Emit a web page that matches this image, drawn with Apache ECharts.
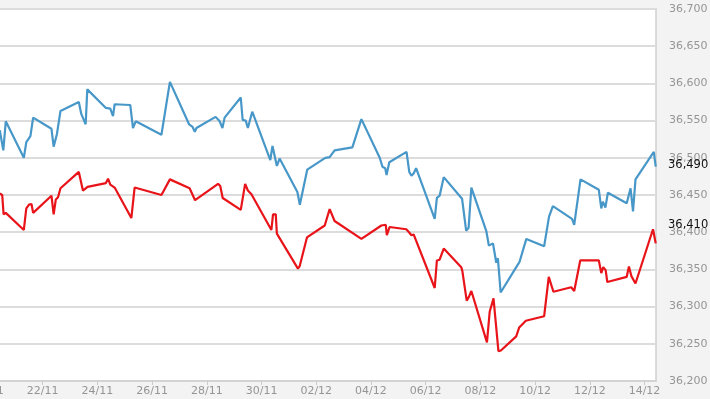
<!DOCTYPE html>
<html>
<head>
<meta charset="utf-8">
<script src="https://cdn.jsdelivr.net/npm/echarts@6/dist/echarts.min.js"></script>
<style>
  html, body { margin: 0; padding: 0; background: #f3f3f3; overflow: hidden; }
  /* the source picture is cropped on its left side */
  #chart { width: 722px; height: 399px; margin-left: -12px; }
</style>
</head>
<body>
<div id="chart"></div>
<script>
// x values are days counted from 20/11
const startDay = { month: 10, date: 20 }
const dayTicks = [0, 2, 4, 6, 8, 10, 12, 14, 16, 18, 20, 22, 24]

const blueDays = [0.43, 0.56, 0.65, 1.31, 1.40, 1.55, 1.65, 2.32, 2.40, 2.52,
  2.65, 3.32, 3.41, 3.57, 3.63, 4.31, 4.47, 4.57, 4.63, 5.20,
  5.30, 5.40, 6.34, 6.65, 7.35, 7.47, 7.56, 7.62, 8.32, 8.47,
  8.57, 8.65, 9.24, 9.31, 9.42, 9.50, 9.66, 10.32, 10.40, 10.56,
  10.66, 11.31, 11.40, 11.67, 12.33, 12.49, 12.67, 13.32, 13.65, 14.32,
  14.42, 14.52, 14.57, 14.67, 15.30, 15.40, 15.48, 15.56, 15.65, 16.33,
  16.41, 16.51, 16.66, 17.33, 17.48, 17.57, 17.67, 18.22, 18.31, 18.46,
  18.58, 18.64, 18.74, 19.38, 19.43, 19.68, 20.33, 20.51, 20.65, 21.35,
  21.43, 21.66, 22.33, 22.42, 22.48, 22.57, 22.66, 23.35, 23.49, 23.58,
  23.67, 24.34, 24.41]
const blueValues = [36537, 36510, 36549, 36500, 36521, 36529, 36554, 36539, 36515, 36532,
  36563, 36575, 36559, 36545, 36592, 36567, 36566, 36556, 36572, 36571,
  36540, 36549, 36531, 36602, 36545, 36542, 36535, 36540, 36555, 36549,
  36540, 36554, 36581, 36551, 36550, 36540, 36562, 36497, 36516, 36489,
  36499, 36454, 36437, 36484, 36500, 36501, 36510, 36514, 36552, 36500,
  36488, 36486, 36477, 36494, 36508, 36481, 36476, 36479, 36486, 36418,
  36446, 36449, 36474, 36445, 36402, 36406, 36460, 36401, 36382, 36385,
  36359, 36365, 36319, 36357, 36360, 36391, 36381, 36421, 36435, 36418,
  36410, 36471, 36457, 36432, 36441, 36433, 36453, 36439, 36459, 36428,
  36471, 36508, 36488]

const redDays = [0.43, 0.52, 0.57, 0.65, 1.31, 1.40, 1.50, 1.59, 1.65, 2.32,
  2.40, 2.48, 2.56, 2.65, 3.32, 3.47, 3.64, 4.31, 4.39, 4.47,
  4.63, 5.24, 5.36, 6.34, 6.65, 7.37, 7.57, 8.41, 8.49, 8.58,
  9.24, 9.40, 9.50, 9.63, 10.36, 10.42, 10.52, 10.56, 11.33, 11.39,
  11.66, 12.31, 12.49, 12.67, 13.65, 14.38, 14.54, 14.58, 14.68, 15.29,
  15.39, 15.48, 15.56, 16.33, 16.41, 16.51, 16.66, 17.30, 17.34, 17.50,
  17.58, 17.67, 18.24, 18.34, 18.48, 18.66, 18.75, 19.31, 19.42, 19.66,
  20.33, 20.50, 20.67, 21.32, 21.43, 21.65, 22.33, 22.42, 22.49, 22.58,
  22.64, 23.35, 23.43, 23.52, 23.67, 24.31, 24.41]
const redValues = [36452, 36450, 36424, 36426, 36403, 36432, 36437, 36438, 36426, 36449,
  36424, 36444, 36447, 36459, 36481, 36456, 36461, 36466, 36472, 36464,
  36460, 36419, 36460, 36450, 36471, 36459, 36443, 36465, 36462, 36446,
  36430, 36465, 36456, 36451, 36403, 36424, 36424, 36398, 36351, 36354,
  36393, 36409, 36431, 36415, 36391, 36409, 36410, 36396, 36407, 36404,
  36400, 36396, 36397, 36325, 36362, 36363, 36378, 36353, 36348, 36308,
  36313, 36321, 36252, 36293, 36311, 36240, 36241, 36260, 36272, 36281,
  36287, 36340, 36320, 36326, 36321, 36362, 36362, 36345, 36353, 36349,
  36333, 36340, 36354, 36341, 36331, 36404, 36385]

// last quotes shown on the price scale
const blueLast = 36490
const redLast = 36410

function fmtNum(v) {
  return String(Math.round(v)).replace(/\B(?=(\d{3})+(?!\d))/g, ',')
}
function fmtDay(v) {
  if (dayTicks.indexOf(v) < 0) return ''
  const d = new Date(2001, startDay.month, startDay.date + v)
  const dd = String(d.getDate()).padStart(2, '0')
  const mm = String(d.getMonth() + 1).padStart(2, '0')
  return dd + '/' + mm
}
function pairs(xs, ys) {
  return xs.map((x, i) => [x, ys[i]])
}
function lastMark(value) {
  return {
    silent: true,
    symbol: 'none',
    lineStyle: { color: 'transparent', width: 0 },
    label: {
      show: true,
      position: 'end',
      distance: 12,
      color: '#111',
      fontSize: 11.5,
      fontFamily: 'DejaVu Sans',
      formatter: p => fmtNum(p.value)
    },
    data: [{ yAxis: value }]
  }
}

const chart = echarts.init(document.getElementById('chart'))
const labelFont = { color: '#959595', fontSize: 11, fontFamily: 'DejaVu Sans' }

const option = {
  backgroundColor: '#f3f3f3',
  animation: false,
  grid: {
    show: true,
    left: 0,
    right: 54,
    top: 9,
    bottom: 18,
    containLabel: false,
    outerBoundsMode: 'none',
    backgroundColor: '#ffffff',
    borderColor: '#d0d0d0',
    borderWidth: 1.5
  },
  xAxis: {
    type: 'value',
    min: 0,
    max: 24.42,
    interval: 2,
    axisLine: { show: true, lineStyle: { color: '#d0d0d0', width: 1.5 } },
    axisTick: { show: true, length: 4, lineStyle: { color: '#cccccc' } },
    axisLabel: Object.assign({ margin: 5, showMaxLabel: false, formatter: fmtDay }, labelFont),
    splitLine: { show: false }
  },
  yAxis: {
    type: 'value',
    position: 'right',
    min: 36200,
    max: 36700,
    interval: 50,
    axisLine: { show: false },
    axisTick: { show: false },
    axisLabel: Object.assign({ margin: 13, formatter: fmtNum }, labelFont),
    splitLine: { show: true, lineStyle: { color: '#dcdcdc', width: 2 } }
  },
  series: [
    {
      name: 'blue',
      type: 'line',
      data: pairs(blueDays, blueValues),
      showSymbol: false,
      lineStyle: { color: '#4797c9', width: 2.2 },
      markLine: lastMark(blueLast)
    },
    {
      name: 'red',
      type: 'line',
      data: pairs(redDays, redValues),
      showSymbol: false,
      lineStyle: { color: '#e8141a', width: 2.2 },
      markLine: lastMark(redLast)
    }
  ]
}

chart.setOption(option)
</script>
</body>
</html>
